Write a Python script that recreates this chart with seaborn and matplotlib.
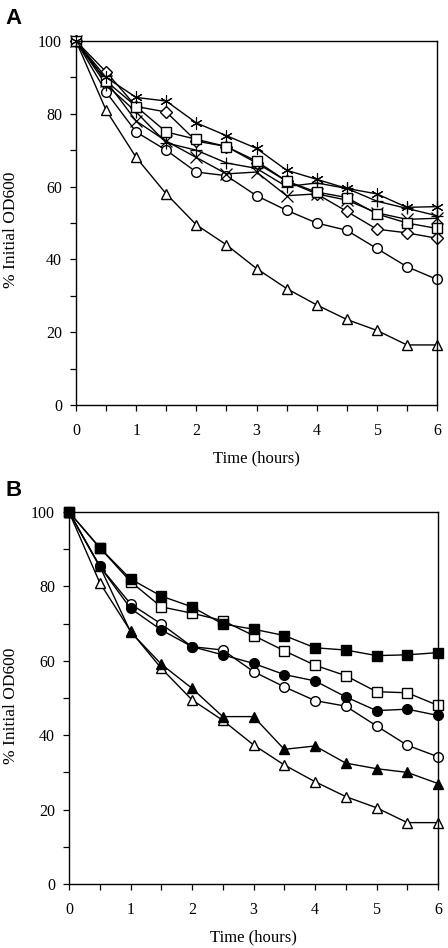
import matplotlib
matplotlib.use("Agg")
import matplotlib.pyplot as plt
import seaborn as sns
import numpy as np

sns.set_theme(style="white")
plt.rcParams['font.family'] = ['Liberation Serif', 'DejaVu Serif']
plt.rcParams.update({'text.color': 'black', 'axes.labelcolor': 'black',
                     'xtick.color': 'black', 'ytick.color': 'black'})

time = [0, 0.5, 1, 1.5, 2, 2.5, 3, 3.5, 4, 4.5, 5, 5.5, 6]
x_ticks = [0, 1, 2, 3, 4, 5, 6]
y_ticks = [0, 20, 40, 60, 80, 100]

# Panel A
a_asterisk = [100, 90, 84.5, 83.5, 77.5, 74, 70.5, 64.5, 62, 59.5, 58, 54.3, 54.5]
a_square = [100, 89, 82, 75, 73, 71, 67, 61.5, 58.5, 57, 52.5, 50, 48.5]
a_diamond = [100, 91.5, 82, 80.5, 72.5, 71, 66.5, 61.5, 58, 53.2, 48.3, 47.3, 45.8]
a_plus = [100, 88, 80.5, 72, 70, 66.5, 65, 60, 61, 59.5, 56, 54, 52]
a_cross = [100, 89, 78, 72.5, 68, 63.5, 64, 57.5, 58, 56.3, 52.8, 51, 51.3]
a_circle = [100, 86, 75, 70, 64, 63, 57.5, 53.5, 50, 48, 43, 38, 34.5]
a_triangle = [100, 81, 68, 58, 49.5, 44, 37.5, 32, 27.5, 23.5, 20.5, 16.5, 16.5]

# Panel B
b_sq_filled = [100, 90.4, 82, 77.4, 74.5, 69.9, 68.5, 66.8, 63.5, 62.9, 61.4, 61.6, 62.2]
b_sq_open = [100, 90.4, 81.3, 74.5, 72.8, 70.8, 66.8, 62.7, 58.8, 56, 51.7, 51.4, 48]
b_ci_filled = [100, 85.4, 74.1, 68.3, 63.8, 61.6, 59.3, 56.3, 54.6, 50.3, 46.6, 47, 45.3]
b_ci_open = [100, 85.4, 75.3, 69.9, 63.8, 62.9, 57.1, 53, 49.3, 47.8, 42.5, 37.3, 34.2]
b_tr_filled = [100, 85.4, 67.8, 59.1, 52.6, 45, 45, 36.2, 37.1, 32.5, 31, 30, 27]
b_tr_open = [100, 81, 68, 58, 49.5, 44, 37.4, 32, 27.5, 23.5, 20.5, 16.5, 16.5]

fig = plt.figure(figsize=(4.48, 9.48), dpi=100)
axA = fig.add_axes([76/448, 1-405/948, (437-76)/448, (405-41)/948])
axB = fig.add_axes([69/448, 1-884/948, (438-69)/448, (884-512)/948])

def draw(ax, y, marker, face, ms, mew=1.0):
    sns.lineplot(x=time, y=y, ax=ax, color='black', linewidth=1.0,
                 marker=marker, markersize=ms, markerfacecolor=face,
                 markeredgecolor='black', markeredgewidth=mew, clip_on=False)

draw(axA, a_triangle, '^', 'white', 7)
draw(axA, a_circle, 'o', 'white', 7)
draw(axA, a_cross, 'x', 'black', 8, 0.9)
draw(axA, a_plus, '+', 'black', 9, 0.9)
draw(axA, a_diamond, 'D', 'white', 6)
draw(axA, a_square, 's', 'white', 7)
draw(axA, a_asterisk, (6, 2, 0), 'black', 9, 0.8)

draw(axB, b_tr_open, '^', 'white', 7)
draw(axB, b_tr_filled, '^', 'black', 7)
draw(axB, b_ci_open, 'o', 'white', 7)
draw(axB, b_ci_filled, 'o', 'black', 7)
draw(axB, b_sq_open, 's', 'white', 7)
draw(axB, b_sq_filled, 's', 'black', 7)

for ax in (axA, axB):
    ax.set_xlim(0, 6)
    ax.set_ylim(0, 100)
    ax.set_xticks(np.arange(0, 6.01, 0.5))
    ax.set_xticklabels([str(int(v)) if v == int(v) else '' for v in np.arange(0, 6.01, 0.5)])
    ax.set_yticks(np.arange(0, 101, 10))
    ax.set_yticklabels([str(int(v)) if int(v) % 20 == 0 else '' for v in np.arange(0, 101, 10)])
    ax.tick_params(axis='both', direction='out', length=4, width=0.9, color='black',
                   labelcolor='black', labelsize=11.5, bottom=True, left=True)
    ax.tick_params(axis='x', pad=9)
    ax.tick_params(axis='y', pad=6)
    for s in ax.spines.values():
        s.set_visible(True)
        s.set_color('black')
        s.set_linewidth(1.0)
    ax.set_xlabel('Time (hours)', fontsize=12, labelpad=8, color='black')
    ax.set_ylabel('% Initial OD600', fontsize=12.5, color='black')
    ax.grid(False)
    ax.set_facecolor('white')

axA.yaxis.set_label_coords((19 - 76) / 361, 0.48)
axB.yaxis.set_label_coords((19 - 69) / 369, 0.48)

fig.text(5/448, 1-18/948, 'A', fontsize=16, fontweight='bold', color='black',
         family=['Liberation Sans', 'DejaVu Sans'], va='center', ha='left')
fig.text(5/448, 1-490/948, 'B', fontsize=16, fontweight='bold', color='black',
         family=['Liberation Sans', 'DejaVu Sans'], va='center', ha='left')

fig.savefig('out.png', dpi=100, facecolor='white')
